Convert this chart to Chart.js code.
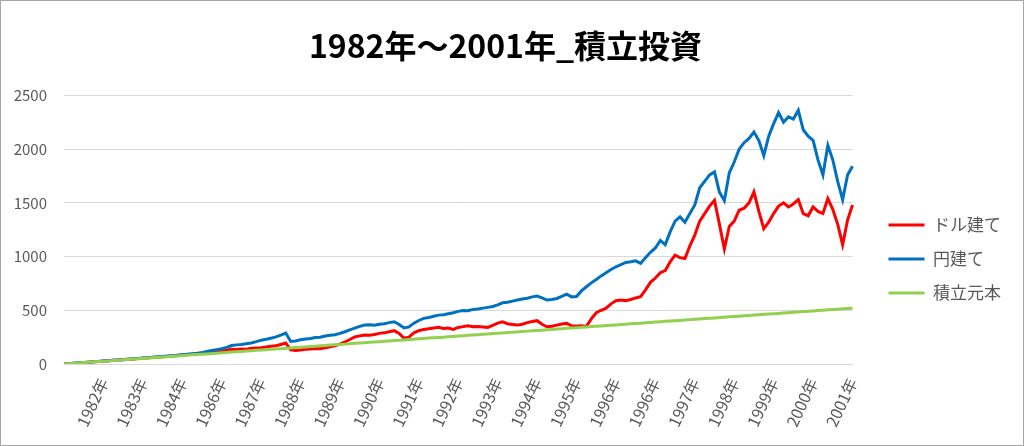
<!DOCTYPE html>
<html><head><meta charset="utf-8">
<script src="https://cdn.jsdelivr.net/npm/chart.js@4.4.1/dist/chart.umd.min.js"></script>
<style>html,body{margin:0;padding:0;background:#fff}#wrap{width:1024px;height:446px;position:relative}</style>
</head><body><div id="wrap"><canvas id="c" width="1024" height="446"></canvas></div>
<script>
const titleText = '1982年～2001年_積立投資';
const seriesNames = ['ドル建て', '円建て', '積立元本'];
const yearLabels = ['1982年','1983年','1984年','1986年','1987年','1988年','1989年','1990年','1991年','1992年',
  '1993年','1994年','1995年','1996年','1996年','1997年','1998年','1999年','2000年','2001年'];
const labelEvery = 8;
const yTicks = [0, 500, 1000, 1500, 2000, 2500];

const dollarValues = [
  0,3,7,10,14,17,20,24,27,30,
  34,37,40,44,47,50,54,57,61,64,
  67,71,75,80,84,89,93,97,102,106,
  112,116,118,128,137,135,140,138,146,150,
  152,158,165,170,182,195,132,125,130,138,
  140,145,142,150,160,170,186,205,228,252,
  262,270,268,275,285,290,300,310,285,240,
  250,290,310,322,328,335,341,330,335,322,
  340,348,355,347,350,345,341,360,380,393,
  375,368,362,370,385,395,403,370,347,352,
  362,372,378,355,352,355,350,420,477,500,
  520,560,589,595,590,601,615,626,690,760,
  800,850,870,950,1013,990,982,1100,1200,1330,
  1400,1470,1524,1300,1070,1280,1330,1431,1450,1500,
  1602,1420,1260,1320,1400,1470,1500,1462,1490,1530,
  1400,1380,1462,1420,1400,1540,1440,1300,1110,1340,
  1480];
const yenValues = [
  0,3,7,11,14,17,21,24,27,31,
  34,38,41,45,49,52,56,59,64,67,
  70,74,77,81,86,90,94,99,106,116,
  125,134,142,155,172,178,181,188,196,208,
  222,230,240,252,268,288,210,215,225,232,
  238,246,250,260,268,272,285,300,318,334,
  350,362,366,360,370,375,385,393,368,335,
  345,380,405,425,432,445,455,458,468,477,
  490,498,495,508,512,520,527,535,550,570,
  575,585,595,605,612,625,632,615,595,600,
  610,630,650,625,628,680,719,755,787,820,
  850,880,905,925,945,951,960,936,990,1040,
  1080,1150,1110,1230,1330,1369,1320,1400,1480,1640,
  1700,1760,1788,1600,1520,1780,1880,2000,2060,2100,
  2159,2080,1940,2120,2237,2340,2250,2300,2280,2361,
  2180,2120,2082,1900,1760,2035,1900,1700,1530,1760,
  1840];
const principalValues = [
  0,3,7,10,13,16,20,23,26,29,
  33,36,39,42,46,49,52,55,59,62,
  65,68,72,75,78,81,85,88,91,94,
  98,101,104,107,111,114,117,120,124,127,
  130,133,137,140,143,146,150,153,156,159,
  163,166,169,172,176,179,182,185,189,192,
  195,198,202,205,208,211,215,218,221,224,
  228,231,234,237,241,244,247,250,254,257,
  260,263,267,270,273,276,280,283,286,289,
  293,296,299,302,306,309,312,315,319,322,
  325,328,332,335,338,341,345,348,351,354,
  358,361,364,367,371,374,377,380,384,387,
  390,393,397,400,403,406,410,413,416,419,
  423,426,429,432,436,439,442,445,449,452,
  455,458,462,465,468,471,475,478,481,484,
  488,491,494,497,501,504,507,510,514,517,
  520];

const categories = dollarValues.map((v, i) => (i > 0 && i % labelEvery === 0) ? yearLabels[i / labelEvery - 1] : '');

const FONT = '"Noto Sans CJK JP", "Noto Sans", sans-serif';
const GRAY = '#595959';

const borderPlugin = {
  id: 'frame',
  beforeDraw(chart) {
    const ctx = chart.ctx;
    ctx.save();
    ctx.fillStyle = '#fff';
    ctx.fillRect(0, 0, chart.width, chart.height);
    ctx.restore();
  },
  afterDraw(chart) {
    const ctx = chart.ctx;
    ctx.save();
    ctx.strokeStyle = '#a6a6a6';
    ctx.lineWidth = 1;
    ctx.strokeRect(0.5, 0.5, chart.width - 1, chart.height - 1);
    ctx.restore();
  }
};

new Chart(document.getElementById('c'), {
  type: 'line',
  data: {
    labels: categories,
    datasets: [
      { label: seriesNames[0], data: dollarValues, borderColor: '#FF0000', backgroundColor: '#FF0000', order: 2 },
      { label: seriesNames[1], data: yenValues, borderColor: '#0070C0', backgroundColor: '#0070C0', order: 1 },
      { label: seriesNames[2], data: principalValues, borderColor: '#92D050', backgroundColor: '#92D050', order: 0 }
    ]
  },
  options: {
    responsive: false,
    animation: false,
    devicePixelRatio: 1,
    elements: { point: { radius: 0 }, line: { borderWidth: 3, tension: 0, fill: false } },
    layout: { padding: { left: 0, right: 13, top: 0, bottom: 0 } },
    plugins: {
      tooltip: { enabled: false },
      title: {
        display: true, text: titleText, color: '#000',
        font: { family: FONT, size: 32, weight: 'bold' },
        padding: { top: 27, bottom: 30 }
      },
      legend: {
        position: 'right',
        title: { display: true, text: ' ', font: { size: 10 }, padding: { top: 0, bottom: 60 } },
        labels: {
          boxWidth: 36, boxHeight: 3, padding: 17, color: GRAY,
          font: { family: FONT, size: 17 },
          sort: (a, b) => a.datasetIndex - b.datasetIndex,
          generateLabels: (chart) => Chart.defaults.plugins.legend.labels.generateLabels(chart).map(l => Object.assign(l, { lineWidth: 0, fillStyle: l.strokeStyle }))
        }
      }
    },
    scales: {
      x: {
        type: 'category',
        offset: false,
        grid: { display: false },
        border: { display: true, color: '#d9d9d9' },
        ticks: { autoSkip: false, maxRotation: 65, minRotation: 65, padding: 3, color: GRAY, font: { family: FONT, size: 16 } },
        afterFit: (s) => { s.height = 82; }
      },
      y: {
        min: 0, max: 2500,
        grid: { color: '#d9d9d9', lineWidth: 1, drawTicks: false },
        border: { display: false },
        ticks: { stepSize: 500, padding: 17, color: GRAY, font: { family: FONT, size: 15 },
          callback: (v) => yTicks.includes(v) ? String(v) : '' },
        afterFit: (s) => { s.width = 64; }
      },
      gap: {
        type: 'linear', position: 'right', display: true,
        grid: { display: false }, border: { display: false }, ticks: { display: false },
        afterFit: (s) => { s.width = 19; }
      }
    }
  },
  plugins: [borderPlugin]
});
</script></body></html>
